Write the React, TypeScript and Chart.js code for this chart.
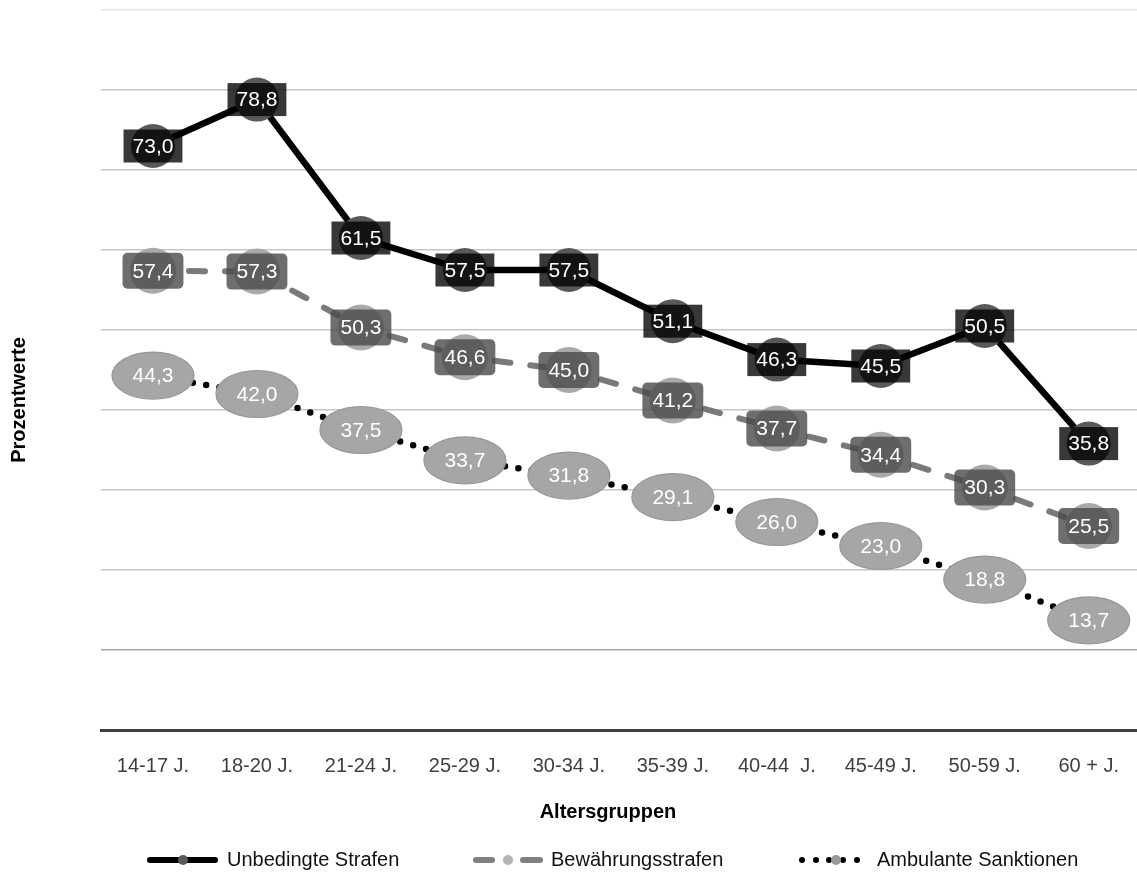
import React, { useEffect, useRef } from "react";
import { Chart, registerables } from "chart.js";

Chart.register(...registerables);

const categories = ["14-17 J.", "18-20 J.", "21-24 J.", "25-29 J.", "30-34 J.", "35-39 J.", "40-44  J.", "45-49 J.", "50-59 J.", "60 + J."];
const unbedingteStrafen = [73.0, 78.8, 61.5, 57.5, 57.5, 51.1, 46.3, 45.5, 50.5, 35.8];
const bewaehrungsstrafen = [57.4, 57.3, 50.3, 46.6, 45.0, 41.2, 37.7, 34.4, 30.3, 25.5];
const ambulanteSanktionen = [44.3, 42.0, 37.5, 33.7, 31.8, 29.1, 26.0, 23.0, 18.8, 13.7];
const seriesNames = ["Unbedingte Strafen", "Bewährungsstrafen", "Ambulante Sanktionen"];
const yTitle = "Prozentwerte";
const xTitle = "Altersgruppen";
const yMin = 0;
const yMax = 90;
const yStep = 10;

const FONT = '"Liberation Sans", Arial, Helvetica, sans-serif';
const fmt = (v: number) => v.toFixed(1).replace(".", ",");

function roundRect(ctx: CanvasRenderingContext2D, x: number, y: number, w: number, h: number, r: number) {
  ctx.beginPath();
  ctx.moveTo(x + r, y);
  ctx.lineTo(x + w - r, y);
  ctx.arcTo(x + w, y, x + w, y + r, r);
  ctx.lineTo(x + w, y + h - r);
  ctx.arcTo(x + w, y + h, x + w - r, y + h, r);
  ctx.lineTo(x + r, y + h);
  ctx.arcTo(x, y + h, x, y + h - r, r);
  ctx.lineTo(x, y + r);
  ctx.arcTo(x, y, x + r, y, r);
  ctx.closePath();
}

const labelPlugin = {
  id: "valueLabels",
  afterDatasetsDraw(chart: any) {
    const ctx: CanvasRenderingContext2D = chart.ctx;
    ctx.save();
    ctx.font = `21px ${FONT}`;
    ctx.textAlign = "center";
    ctx.textBaseline = "middle";
    // series 3: ellipses
    const m2 = chart.getDatasetMeta(2);
    m2.data.forEach((p: any, i: number) => {
      ctx.beginPath();
      ctx.ellipse(p.x, p.y, 41, 23.5, 0, 0, Math.PI * 2);
      ctx.fillStyle = "#a6a6a6";
      ctx.fill();
      ctx.lineWidth = 1.2;
      ctx.strokeStyle = "#969696";
      ctx.stroke();
      ctx.fillStyle = "#ffffff";
      ctx.fillText(fmt(ambulanteSanktionen[i]), p.x, p.y + 1);
    });
    // series 2: rounded rects
    const m1 = chart.getDatasetMeta(1);
    m1.data.forEach((p: any, i: number) => {
      const t = fmt(bewaehrungsstrafen[i]);
      const w = ctx.measureText(t).width + 20;
      const h = 36;
      roundRect(ctx, p.x - w / 2, p.y - h / 2, w, h, 5);
      ctx.fillStyle = "rgba(74,74,74,0.8)";
      ctx.fill();
      ctx.fillStyle = "#ffffff";
      ctx.fillText(t, p.x, p.y + 1);
    });
    // series 1: rects
    const m0 = chart.getDatasetMeta(0);
    m0.data.forEach((p: any, i: number) => {
      const t = fmt(unbedingteStrafen[i]);
      const w = ctx.measureText(t).width + 18;
      const h = 33;
      ctx.fillStyle = "rgba(0,0,0,0.78)";
      ctx.fillRect(p.x - w / 2, p.y - h / 2, w, h);
      ctx.fillStyle = "#ffffff";
      ctx.fillText(t, p.x, p.y + 1);
    });
    ctx.restore();
  },
};

const decorPlugin = {
  id: "decor",
  afterDraw(chart: any) {
    const ctx: CanvasRenderingContext2D = chart.ctx;
    ctx.save();
    // axis titles
    ctx.fillStyle = "#000";
    ctx.font = `bold 20px ${FONT}`;
    ctx.textAlign = "center";
    ctx.textBaseline = "middle";
    ctx.fillText(xTitle, 608, 812);
    ctx.save();
    ctx.translate(19, 400);
    ctx.rotate(-Math.PI / 2);
    ctx.fillText(yTitle, 0, 0);
    ctx.restore();

    // legend
    const ly = 860;
    ctx.lineCap = "round";
    // item 1
    ctx.strokeStyle = "#000";
    ctx.lineWidth = 6;
    ctx.beginPath();
    ctx.moveTo(150, ly);
    ctx.lineTo(215, ly);
    ctx.stroke();
    ctx.fillStyle = "#595959";
    ctx.beginPath();
    ctx.arc(183, ly, 5, 0, Math.PI * 2);
    ctx.fill();
    // item 2
    ctx.strokeStyle = "#808080";
    ctx.beginPath();
    ctx.moveTo(476, ly);
    ctx.lineTo(492, ly);
    ctx.moveTo(523, ly);
    ctx.lineTo(540, ly);
    ctx.stroke();
    ctx.fillStyle = "#b3b3b3";
    ctx.beginPath();
    ctx.arc(508, ly, 5, 0, Math.PI * 2);
    ctx.fill();
    // item 3
    ctx.fillStyle = "#000";
    [802, 816, 829, 843, 857].forEach((x) => {
      ctx.beginPath();
      ctx.arc(x, ly, 3, 0, Math.PI * 2);
      ctx.fill();
    });
    ctx.fillStyle = "#999";
    ctx.beginPath();
    ctx.arc(836, ly, 5, 0, Math.PI * 2);
    ctx.fill();

    ctx.fillStyle = "#111";
    ctx.font = `20px ${FONT}`;
    ctx.textAlign = "left";
    ctx.fillText(seriesNames[0], 227, ly);
    ctx.fillText(seriesNames[1], 551, ly);
    ctx.fillText(seriesNames[2], 877, ly);
    ctx.restore();
  },
};

export default function App() {
  const ref = useRef<HTMLCanvasElement>(null);
  useEffect(() => {
    if (!ref.current) return;
    const chart = new Chart(ref.current, {
      type: "line",
      data: {
        labels: categories,
        datasets: [
          {
            label: seriesNames[0],
            data: unbedingteStrafen,
            borderColor: "#000000",
            borderWidth: 6.5,
            pointRadius: 22,
            pointBackgroundColor: "#595959",
            pointBorderColor: "rgba(0,0,0,0)",
            pointBorderWidth: 0,
            tension: 0,
          },
          {
            label: seriesNames[1],
            data: bewaehrungsstrafen,
            borderColor: "#7a7a7a",
            borderWidth: 6,
            borderDash: [16, 20],
            borderCapStyle: "round",
            pointRadius: 23,
            pointBackgroundColor: "#a9a9a9",
            pointBorderColor: "rgba(0,0,0,0)",
            pointBorderWidth: 0,
            tension: 0,
          },
          {
            label: seriesNames[2],
            data: ambulanteSanktionen,
            borderColor: "#000000",
            borderWidth: 6.5,
            borderDash: [0, 13.5],
            borderCapStyle: "round",
            pointRadius: 0,
            tension: 0,
          },
        ],
      } as any,
      options: {
        responsive: false,
        animation: false,
        events: [],
        layout: { autoPadding: false, padding: { left: 101, top: 10, right: 0, bottom: 0 } },
        plugins: { legend: { display: false }, tooltip: { enabled: false }, title: { display: false } },
        scales: {
          x: {
            type: "category",
            offset: true,
            grid: { display: false, drawTicks: false },
            border: { display: true, color: "#404040", width: 3 },
            ticks: {
              color: "#404040",
              font: { size: 20, family: FONT },
              padding: 24,
              maxRotation: 0,
              autoSkip: false,
            },
            afterFit: (s: any) => {
              s.height = 148;
            },
          },
          y: {
            min: yMin,
            max: yMax,
            ticks: { stepSize: yStep, display: false },
            grid: {
              drawTicks: false,
              lineWidth: 1.5,
              color: (c: any) => {
                const v = c.tick ? c.tick.value : 0;
                if (v === yMax) return "#e3e3e3";
                if (v === 10) return "#a6a6a6";
                return "#c6c6c6";
              },
            },
            border: { display: false },
            afterFit: (s: any) => {
              s.width = 0;
            },
          },
        },
      } as any,
      plugins: [labelPlugin, decorPlugin],
    });
    return () => chart.destroy();
  }, []);
  return (
    <div style={{ position: "fixed", left: 0, top: 0, width: 1137, height: 878, overflow: "hidden", background: "#fff" }}>
      <canvas ref={ref} width={1143} height={878} style={{ display: "block", width: 1143, height: 878 }} />
    </div>
  );
}
